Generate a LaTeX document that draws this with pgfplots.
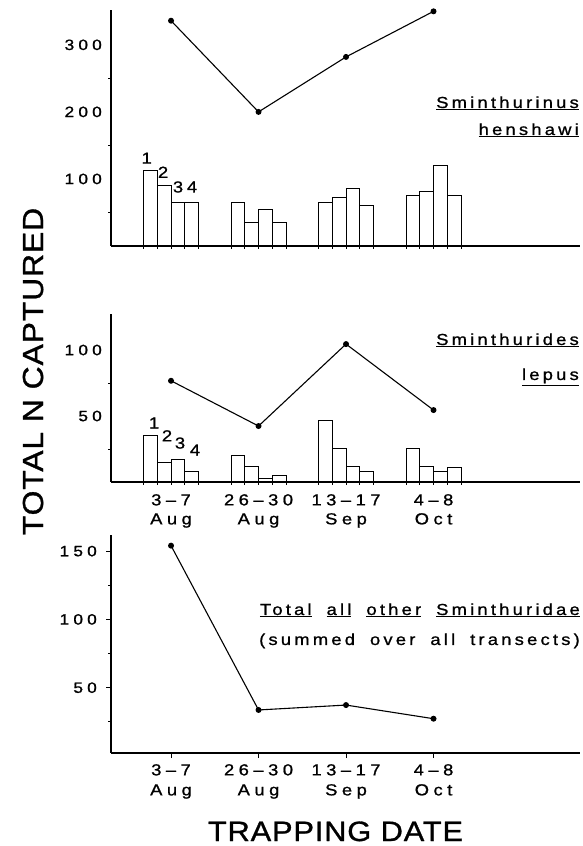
\documentclass[border=0pt]{standalone}
\usepackage{fontspec}
\setmainfont{Liberation Sans}[FakeStretch=1.15]
\newfontfamily\tickf{Liberation Sans}[FakeStretch=1.15, LetterSpace=28, FakeBold=1]
\newfontfamily\labf{Liberation Sans}[FakeStretch=1.15, LetterSpace=20, FakeBold=1]
\newfontfamily\titf{Liberation Sans}[FakeStretch=1.1, LetterSpace=3, FakeBold=1]
\usepackage{pgfplots}
\usepackage{pgfplotstable}
\pgfplotsset{compat=1.18}

\pgfplotstableread{
x t1 t2 t3 t4 tot
1 112 90 65 65 336
2 65 35 55 35 200
3 65 72 86 60 282
4 75 81 120 75 350
}\henshawi

\pgfplotstableread{
x t1 t2 t3 t4 tot
1 35 14.6 17.2 8.3 76.7
2 20 12 2.8 4.8 42.4
3 46.5 25.5 12 8.3 104.5
4 25.5 11.6 7.8 11.1 54.5
}\lepus

\pgfplotstableread{
x tot
1 154
2 33.7
3 37.3
4 27.3
}\others

\pgfplotsset{
  panel/.style={
    scale only axis, width=469pt,
    xmin=0.314, xmax=5.674,
    axis x line=bottom, axis y line=left,
    axis line style={-, line width=1.2pt},
    tick align=outside,
    major tick length=4pt, minor tick length=3pt,
    every tick/.style={black, line width=0.9pt},
    /pgf/number format/assume math mode=true,
    yticklabel style={font=\tickf\fontsize{15}{18}\selectfont, anchor=east, inner sep=0pt, xshift=-9pt},
    xticklabel style={font=\tickf\fontsize{16}{19}\selectfont, align=center, anchor=north, inner sep=0pt},
    clip=false,
  },
  bars/.style={ybar, bar shift=0pt, bar width=0.157, fill=white, draw=black, line width=1pt},
  tline/.style={black, line width=1.1pt, mark=*, mark size=2.4pt, mark options={fill=black}},
  edges/.style={minor xtick={0.686,0.843,1,1.157,1.314,1.686,1.843,2,2.157,2.314,2.686,2.843,3,3.157,3.314,3.686,3.843,4,4.157,4.314}},
}

\begin{document}
\begin{tikzpicture}[x=1pt,y=1pt]
\useasboundingbox (0,0) rectangle (583,846);

% Panel 1
\begin{axis}[panel, edges, at={(111pt,600pt)}, anchor=south west, height=236pt,
  ymin=0, ymax=352, ytick={100,200,300}, minor ytick={50,150,250},
  xtick={1,2,3,4}, xticklabels={}, major tick length=0pt, minor tick length=3pt]
\addplot[bars] table[x expr=\thisrow{x}-0.2355, y=t1] \henshawi;
\addplot[bars] table[x expr=\thisrow{x}-0.0785, y=t2] \henshawi;
\addplot[bars] table[x expr=\thisrow{x}+0.0785, y=t3] \henshawi;
\addplot[bars] table[x expr=\thisrow{x}+0.2355, y=t4] \henshawi;
\addplot[tline] table[x=x, y=tot] \henshawi;
\node[font=\labf\fontsize{16}{19}\selectfont] at (axis cs:0.722,131) {1};
\node[font=\labf\fontsize{16}{19}\selectfont] at (axis cs:0.909,110) {2};
\node[font=\labf\fontsize{16}{19}\selectfont] at (axis cs:1.08,88) {3};
\node[font=\labf\fontsize{16}{19}\selectfont] at (axis cs:1.24,88) {4};
\end{axis}

% Panel 2
\begin{axis}[panel, edges, at={(111pt,364pt)}, anchor=south west, height=168.4pt,
  ymin=0, ymax=127.6, ytick={50,100}, minor ytick={25,75},
  xtick={1,2,3,4}, major tick length=0pt, minor tick length=3pt,
  xticklabels={{3–7\\Aug},{26–30\\Aug},{13–17\\Sep},{4–8\\Oct}},
  xticklabel style={yshift=-12pt}]
\addplot[bars] table[x expr=\thisrow{x}-0.2355, y=t1] \lepus;
\addplot[bars] table[x expr=\thisrow{x}-0.0785, y=t2] \lepus;
\addplot[bars] table[x expr=\thisrow{x}+0.0785, y=t3] \lepus;
\addplot[bars] table[x expr=\thisrow{x}+0.2355, y=t4] \lepus;
\addplot[tline] table[x=x, y=tot] \lepus;
\node[font=\labf\fontsize{16}{19}\selectfont] at (axis cs:0.806,44.7) {1};
\node[font=\labf\fontsize{16}{19}\selectfont] at (axis cs:0.954,35) {2};
\node[font=\labf\fontsize{16}{19}\selectfont] at (axis cs:1.103,29.5) {3};
\node[font=\labf\fontsize{16}{19}\selectfont] at (axis cs:1.274,24.2) {4};
\end{axis}

% Panel 3
\begin{axis}[panel, at={(111pt,93pt)}, anchor=south west, height=218pt,
  ymin=2.2, ymax=161.8, ytick={50,100,150}, minor ytick={25,75,125},
  xtick={1,2,3,4}, major tick length=5pt,
  xticklabels={{3–7\\Aug},{26–30\\Aug},{13–17\\Sep},{4–8\\Oct}},
  xticklabel style={yshift=-6pt, font=\tickf\fontsize{16}{20}\selectfont}]
\addplot[tline] table[x=x, y=tot] \others;
\end{axis}

% Species labels
\begin{scope}[every node/.style={inner sep=0pt, font=\labf\fontsize{16}{19}\selectfont}]
\node[anchor=base east] at (579,738) {\underline{Sminthurinus}};
\node[anchor=base east] at (579,711) {\underline{henshawi}};
\node[anchor=base east] at (579,501) {\underline{Sminthurides}};
\node[anchor=base east] at (579,466) {\underline{lepus}};
\node[anchor=base east] at (580,231) {\spaceskip=15pt \underline{Total} \underline{all} \underline{other} \underline{Sminthuridae}};
\node[anchor=base east] at (580,201) {\spaceskip=15pt (summed over all transects)};
\end{scope}

\node[anchor=base, inner sep=0pt, font=\titf\fontsize{28}{32}\selectfont] at (335.5,5) {TRAPPING DATE};
\node[anchor=base, rotate=90, inner sep=0pt, font=\titf\fontsize{29}{32}\selectfont] at (43,474.5) {TOTAL N CAPTURED};
\end{tikzpicture}
\end{document}
